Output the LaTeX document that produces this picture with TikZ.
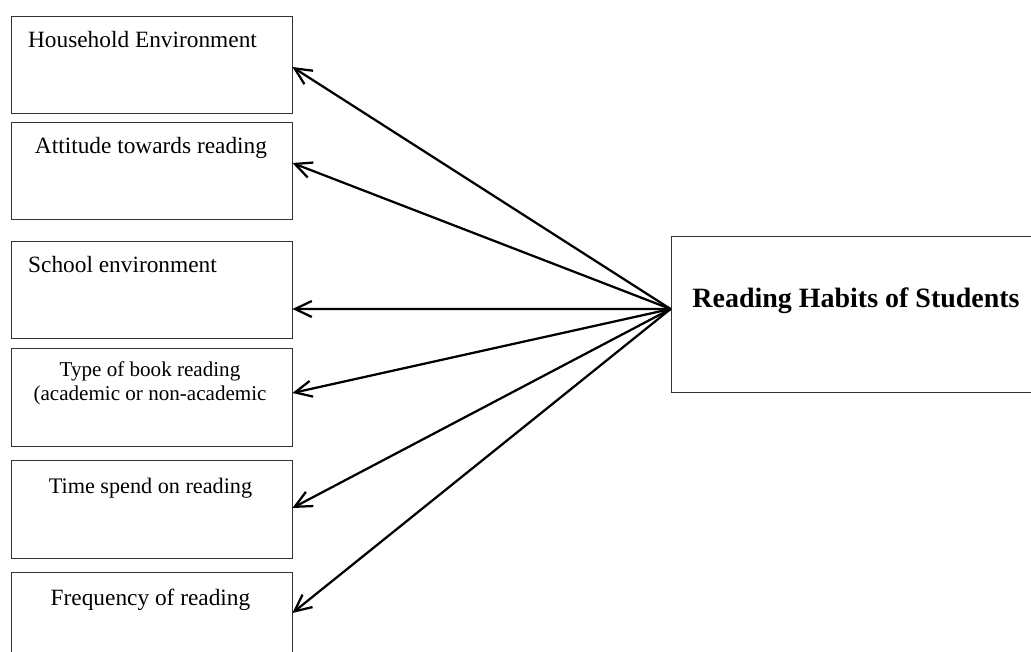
\documentclass[tikz,border=0pt]{standalone}
\usepackage{fontspec}
\setmainfont{Liberation Serif}
\usetikzlibrary{arrows.meta}

\begin{document}
\begin{tikzpicture}[
  box/.style={draw=black!80, line width=0.6pt, minimum width=7.025cm, minimum height=2.425cm, inner sep=0pt},
  lbl/.style={anchor=base, inner sep=0pt, font=\fontsize{16.6}{20}\selectfont},
  arrow/.style={-{Straight Barb[length=4.2mm,width=4mm]}, line width=1.6pt}]
  \clip (0,0) rectangle (25.775,-16.275);
  % factors on the left
  \node[box] (house)    at (3.7875,-1.6125) {};
  \node[box] (attitude) at (3.7875,-4.2625) {};
  \node[box] (school)   at (3.7875,-7.2375) {};
  \node[box, minimum height=2.45cm] (booktype)  at (3.7875,-9.925) {};
  \node[box, minimum height=2.45cm] (timespend) at (3.7875,-12.725) {};
  \node[box, minimum height=2.45cm] (frequency) at (3.7875,-15.525) {};
  \node[lbl] (houseT)    at (3.5625,-1.175) {Household Environment};
  \node[lbl] (attitudeT) at (3.775,-3.825) {Attitude towards reading};
  \node[lbl] (schoolT)   at (3.0625,-6.8) {School environment};
  \node[lbl, align=center, font=\fontsize{15}{16.4}\selectfont] (booktypeT) at (3.75,-10.0)
    {Type of book reading\\(academic or non-academic};
  \node[lbl, font=\fontsize{15.8}{19}\selectfont] (timespendT) at (3.7625,-12.325) {Time spend on reading};
  \node[lbl] (frequencyT) at (3.7625,-15.125) {Frequency of reading};
  % the habits box
  \node[box, minimum width=9.225cm, minimum height=3.9cm] (habits) at (21.3875,-7.85) {};
  \node[lbl, font=\fontsize{19.9}{24}\selectfont\bfseries] (habitsT) at (21.4,-7.675) {Reading Habits of Students};
  \coordinate (hub) at ([yshift=0.125cm]habits.west);
  \draw[arrow] (hub) -- ([yshift=-0.0625cm]house.east);
  \draw[arrow] (hub) -- ([yshift=0.1875cm]attitude.east);
  \draw[arrow] (hub) -- ([yshift=-0.4875cm]school.east);
  \draw[arrow] (hub) -- ([yshift=0.1cm]booktype.east);
  \draw[arrow] (hub) -- ([yshift=0.025cm]timespend.east);
  \draw[arrow] (hub) -- ([yshift=0.2cm]frequency.east);
\end{tikzpicture}
\end{document}
